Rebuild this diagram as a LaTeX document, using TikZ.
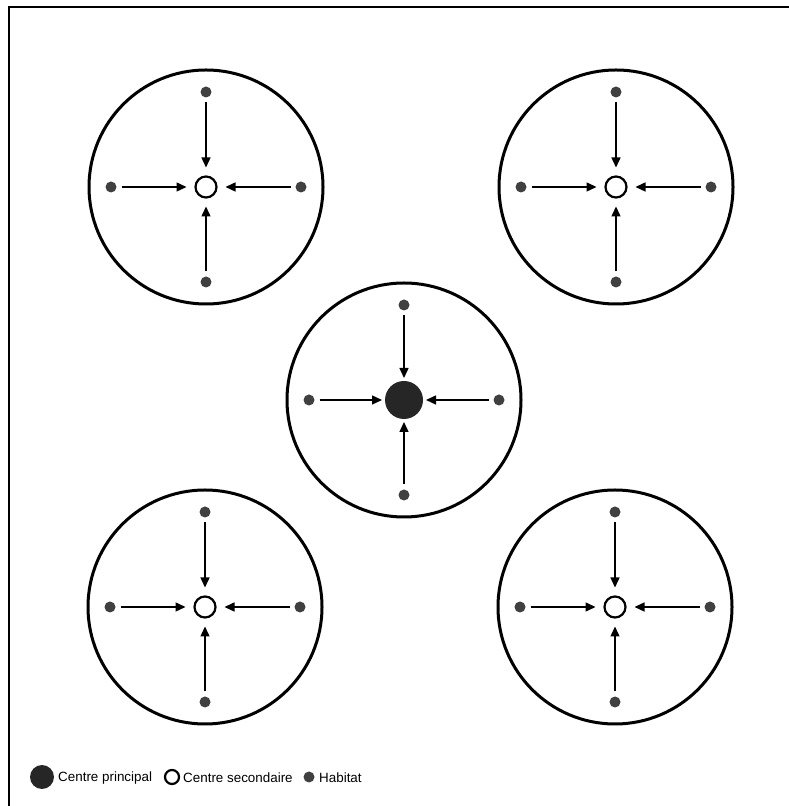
\documentclass[tikz,border=0pt]{standalone}
\usepackage{fontspec}
\setmainfont{Liberation Sans}
\usetikzlibrary{arrows.meta}

\begin{document}
\begin{tikzpicture}[
  x=1pt, y=1pt,
  ring/.style={draw, circle, line width=3pt, minimum size=234pt, inner sep=0pt},
  hab/.style={circle, fill=black!75, minimum size=11pt, inner sep=0pt, outer sep=5pt},
  sec/.style={circle, draw, line width=2.2pt, fill=white, minimum size=21pt, inner sep=0pt, outer sep=9pt},
  princ/.style={circle, fill=black!85, minimum size=38pt, inner sep=0pt, outer sep=3pt},
  arr/.style={-{Triangle[length=10pt,width=9pt]}, line width=1.4pt},
  lbl/.style={anchor=west, inner sep=0pt, font=\fontsize{13.4}{15}\selectfont}
]
\useasboundingbox (0,0) rectangle (789,806);
\draw[line width=2pt] (9,0) -- (9,799) -- (789,799);

% five settlement cells
\foreach \n/\p/\k in {tl/{206,619}/sec, tr/{616,619}/sec, m/{404,406}/princ,
                      bl/{205,199}/sec, br/{615,199}/sec} {
  \node[ring] (\n-ring) at (\p) {};
  \node[\k] (\n) at (\p) {};
  \node[hab] (\n-n) at ([yshift=95pt]\n.center) {};
  \node[hab] (\n-s) at ([yshift=-95pt]\n.center) {};
  \node[hab] (\n-w) at ([xshift=-95pt]\n.center) {};
  \node[hab] (\n-e) at ([xshift=95pt]\n.center) {};
  \draw[arr] (\n-n) -- (\n);
  \draw[arr] (\n-s) -- (\n);
  \draw[arr] (\n-w) -- (\n);
  \draw[arr] (\n-e) -- (\n);
}

% legend
\node[princ, minimum size=24pt, outer sep=0pt] (lp) at (42,29) {};
\node[lbl] (lp-t) at (58,28) {Centre principal};
\node[sec, minimum size=14pt, outer sep=0pt] (ls) at (172,29) {};
\node[lbl] (ls-t) at (183,28) {Centre secondaire};
\node[hab, outer sep=0pt] (lh) at (309,29) {};
\node[lbl] (lh-t) at (319,28) {Habitat};
\end{tikzpicture}
\end{document}
